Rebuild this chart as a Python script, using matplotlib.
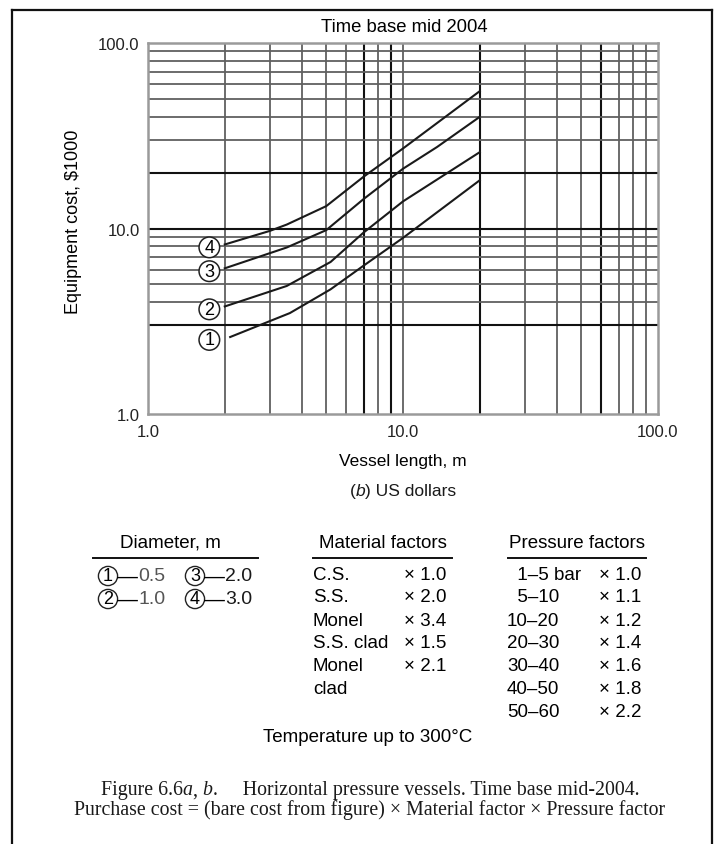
import matplotlib
matplotlib.use("Agg")
import matplotlib.pyplot as plt
from matplotlib.lines import Line2D
from matplotlib.offsetbox import TextArea, HPacker, AnnotationBbox

plt.rcParams['font.family'] = ['Liberation Sans', 'DejaVu Sans']

W, H = 725, 845

# Bare cost curves: vessel length (m) against equipment cost ($1000)
length_1 = [2.1, 3.6, 5.2, 7.0, 10.0, 20.0]
cost_1 = [2.6, 3.5, 4.7, 6.3, 8.9, 18.2]
length_2 = [2.0, 3.5, 5.2, 7.0, 10.0, 20.0]
cost_2 = [3.8, 4.9, 6.6, 9.5, 14.0, 25.8]
length_3 = [2.0, 3.5, 5.0, 7.0, 10.0, 13.6, 20.0]
cost_3 = [6.1, 7.9, 9.8, 14.4, 21.0, 27.5, 40.0]
length_4 = [2.0, 3.0, 3.5, 5.0, 7.0, 10.0, 20.0]
cost_4 = [8.2, 9.7, 10.5, 13.2, 19.0, 27.0, 55.0]

curve_ids = ['1', '2', '3', '4']
diameters = ['0.5', '1.0', '2.0', '3.0']

# Log paper rulings
x_rulings = [2, 3, 4, 5, 6, 7, 8, 9, 10, 20, 30, 40, 50, 60, 70, 80, 90]
x_heavy = [7, 9, 20, 60]
y_rulings = [3, 4, 5, 6, 7, 8, 9, 10, 20, 30, 40, 50, 60, 70, 80, 90]
y_heavy = [3, 10, 20]

tick_values = [1, 10, 100]
tick_labels = ['1.0', '10.0', '100.0']

materials = ['C.S.', 'S.S.', 'Monel', 'S.S. clad', 'Monel', 'clad']
material_factors = ['1.0', '2.0', '3.4', '1.5', '2.1', None]
pressure_ranges = ['\u20071\u20135 bar', '\u20075\u201310', '10\u201320', '20\u201330',
                   '30\u201340', '40\u201350', '50\u201360']
pressure_factors = ['1.0', '1.1', '1.2', '1.4', '1.6', '1.8', '2.2']


def fx(px):
    return px / W


def fy(py):
    return 1 - py / H


fig = plt.figure(figsize=(W / 100, H / 100), dpi=100)
fig.patch.set_facecolor('white')

ax = fig.add_axes([fx(148), fy(415), (658 - 148) / W, (415 - 44) / H])
ax.set_xscale('log')
ax.set_yscale('log')
ax.set_xlim(1, 100)
ax.set_ylim(1, 100)

for v in x_rulings:
    heavy = v in x_heavy
    ax.axvline(v, color='#111111' if heavy else '#606060',
               lw=1.5 if heavy else 1.3, zorder=1)
for v in y_rulings:
    heavy = v in y_heavy
    ax.axhline(v, color='#111111' if heavy else '#606060',
               lw=1.5 if heavy else 1.3, zorder=1)

for s in ax.spines.values():
    s.set_color('#9a9a9a')
    s.set_linewidth(1.8)

ax.minorticks_off()
ax.set_xticks(tick_values)
ax.set_xticklabels(tick_labels)
ax.set_yticks(tick_values)
ax.set_yticklabels(tick_labels)
ax.tick_params(axis='both', length=0, labelsize=12, colors='#222222')
ax.tick_params(axis='x', pad=7)
ax.tick_params(axis='y', pad=6)

curves = [(length_1, cost_1), (length_2, cost_2), (length_3, cost_3), (length_4, cost_4)]
for (xs, ys), cid in zip(curves, curve_ids):
    ax.plot(xs, ys, color='#1a1a1a', lw=1.5, zorder=3, solid_joinstyle='round')
    ax.text(1.74, ys[0] * 0.965, cid, ha='center', va='center', fontsize=13,
            zorder=4,
            bbox=dict(boxstyle='circle,pad=0.1', fc='white', ec='#222222', lw=1.1))

fig.text(fx(404), fy(27), 'Time base mid 2004', ha='center', va='center', fontsize=13.3)
fig.text(fx(74), fy(222), 'Equipment cost, $1000', ha='center', va='center',
         rotation=90, fontsize=13)
fig.text(fx(403), fy(462), 'Vessel length, m', ha='center', va='center', fontsize=12.5)


def rich_text(x, y, parts, fontsize, family, ha=0.5):
    boxes = [TextArea(t, textprops=dict(fontsize=fontsize, family=family,
                                        style=st, color='#1a1a1a'))
             for t, st in parts]
    pack = HPacker(children=boxes, align='baseline', pad=0, sep=0)
    ab = AnnotationBbox(pack, (fx(x), fy(y)), xycoords='figure fraction',
                        box_alignment=(ha, 0.5), frameon=False, pad=0)
    fig.add_artist(ab)


rich_text(403, 492, [('(', 'normal'), ('b', 'italic'), (') US dollars', 'normal')],
          12.5, ['Liberation Sans', 'DejaVu Sans'])

# Diameter key
fs = 13.5
fig.text(fx(170), fy(543), 'Diameter, m', ha='center', va='center', fontsize=fs)
fig.add_artist(Line2D([fx(93), fx(258)], [fy(559), fy(559)], color='#111111', lw=1.4))
key_pos = [(108, 577), (108, 600), (195, 577), (195, 600)]
for (kx, ky), cid, d in zip(key_pos, curve_ids, diameters):
    fig.text(fx(kx), fy(ky), cid, ha='center', va='center', fontsize=13,
             bbox=dict(boxstyle='circle,pad=0.06', fc='white', ec='#222222', lw=1.0))
    fig.text(fx(kx + 9), fy(ky), '\u2014', ha='left', va='center', fontsize=15)
    fig.text(fx(kx + 30), fy(ky), d, ha='left', va='center', fontsize=14,
             color='#555555' if d in ('0.5', '1.0') else '#1a1a1a')

# Material factors
fig.text(fx(383), fy(543), 'Material factors', ha='center', va='center', fontsize=fs)
fig.add_artist(Line2D([fx(313), fx(452)], [fy(559), fy(559)], color='#111111', lw=1.4))
for i, (m, f) in enumerate(zip(materials, material_factors)):
    yy = 575 + 23 * i
    fig.text(fx(313), fy(yy), m, ha='left', va='center', fontsize=fs)
    if f is not None:
        fig.text(fx(404), fy(yy), '\u00d7 ' + f, ha='left', va='center', fontsize=fs)

# Pressure factors
fig.text(fx(577), fy(543), 'Pressure factors', ha='center', va='center', fontsize=fs)
fig.add_artist(Line2D([fx(508), fx(646)], [fy(559), fy(559)], color='#111111', lw=1.4))
for i, (r, f) in enumerate(zip(pressure_ranges, pressure_factors)):
    yy = 575 + 23 * i
    fig.text(fx(507), fy(yy), r, ha='left', va='center', fontsize=fs)
    fig.text(fx(599), fy(yy), '\u00d7 ' + f, ha='left', va='center', fontsize=fs)

fig.text(fx(368), fy(738), 'Temperature up to 300\u00b0C', ha='center', va='center',
         fontsize=fs)

# Caption
serif = ['Liberation Serif', 'DejaVu Serif']
rich_text(370, 791, [('Figure 6.6', 'normal'), ('a', 'italic'), (', ', 'normal'),
                     ('b', 'italic'),
                     ('.\u2003 Horizontal pressure vessels. Time base mid-2004.', 'normal')],
          14.3, serif)
fig.text(fx(370), fy(810),
         'Purchase cost = (bare cost from figure) \u00d7 Material factor \u00d7 Pressure factor',
         ha='center', va='center', fontsize=14.3, family=serif, color='#1a1a1a')

# Page frame
frame = dict(color='#111111', lw=1.6)
fig.add_artist(Line2D([fx(12), fx(712)], [fy(11), fy(11)], **frame))
fig.add_artist(Line2D([fx(12), fx(12)], [fy(11), fy(845)], **frame))
fig.add_artist(Line2D([fx(712), fx(712)], [fy(11), fy(845)], **frame))

fig.savefig('out.png', dpi=100, facecolor='white')
